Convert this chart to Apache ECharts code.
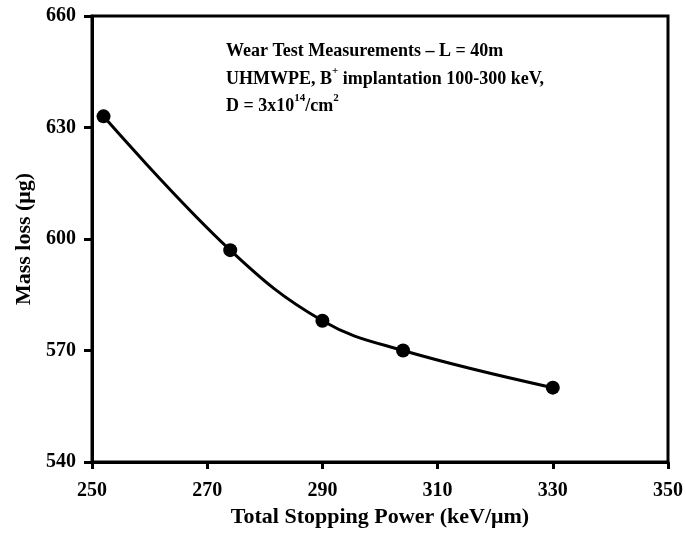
<!DOCTYPE html>
<html>
<head>
<meta charset="utf-8">
<script src="https://cdn.jsdelivr.net/npm/echarts@6/dist/echarts.min.js"></script>
<style>html,body{margin:0;padding:0;background:#fff}#c{width:686px;height:539px}</style>
</head>
<body>
<div id="c"></div>
<script>
const stoppingPower = [252, 274, 290, 304, 330];
const massLoss = [633, 597, 578, 570, 560];
const xTicks = [250, 270, 290, 310, 330, 350];
const yTicks = [540, 570, 600, 630, 660];

const FONT = '"Liberation Serif", "Times New Roman", serif';
const chart = echarts.init(document.getElementById('c'));
const pts = stoppingPower.map((x, i) => [x, massLoss[i]]);

chart.setOption({
  animation: false,
  backgroundColor: '#fff',
  grid: { left: 92, right: 17, top: 16, bottom: 77, show: true, borderColor: '#000', borderWidth: 3 },
  xAxis: {
    type: 'value', min: xTicks[0], max: xTicks[xTicks.length - 1], interval: 20,
    name: 'Total Stopping Power (keV/\u03bcm)', nameLocation: 'middle', nameGap: 43,
    nameTextStyle: { fontFamily: FONT, fontWeight: 'bold', fontSize: 22, color: '#000' },
    axisLine: { lineStyle: { color: '#000', width: 3 } },
    axisTick: { length: 7, lineStyle: { color: '#000', width: 3 } },
    axisLabel: { fontFamily: FONT, fontWeight: 'bold', fontSize: 20, color: '#000', margin: 19 },
    splitLine: { show: false }
  },
  yAxis: {
    type: 'value', min: yTicks[0], max: yTicks[yTicks.length - 1], interval: 30,
    name: 'Mass loss (\u03bcg)', nameLocation: 'middle', nameGap: 56,
    nameTextStyle: { fontFamily: FONT, fontWeight: 'bold', fontSize: 22, color: '#000' },
    axisLine: { lineStyle: { color: '#000', width: 3 } },
    axisTick: { length: 8, lineStyle: { color: '#000', width: 3 } },
    axisLabel: { fontFamily: FONT, fontWeight: 'bold', fontSize: 20, color: '#000', margin: 16 },
    splitLine: { show: false }
  },
  series: [{
    type: 'line', data: pts, smooth: 0.4,
    symbol: 'circle', symbolSize: 14,
    lineStyle: { color: '#000', width: 3 },
    itemStyle: { color: '#000' }
  }],
  graphic: [{
    type: 'text', left: 226, top: 38,
    style: {
      text: 'Wear Test Measurements \u2013 L = 40m\nUHMWPE, B{sup|+} implantation 100-300 keV,\nD = 3x10{sup|14}/cm{sup|2}',
      fontFamily: FONT, fontWeight: 'bold', fontSize: 18, fill: '#000', lineHeight: 27.5,
      rich: {
        sup: { fontFamily: FONT, fontWeight: 'bold', fontSize: 11, lineHeight: 13, verticalAlign: 'top', fill: '#000' }
      }
    }
  }]
});
</script>
</body>
</html>
